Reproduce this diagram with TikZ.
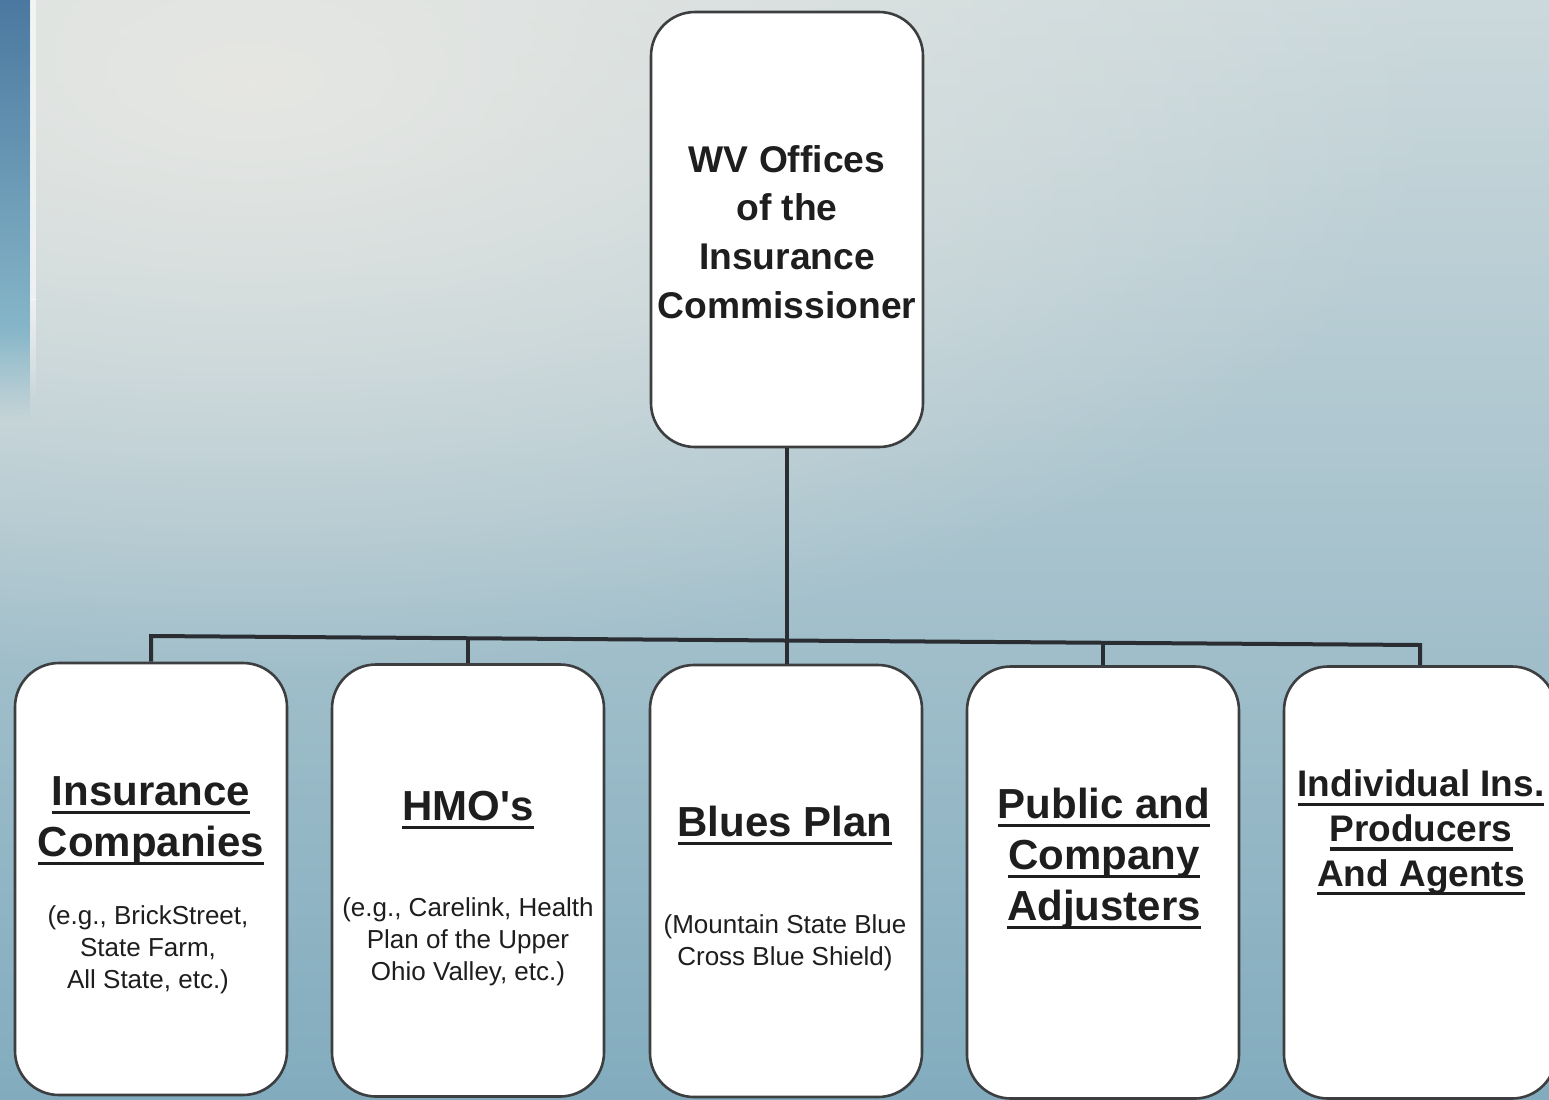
\documentclass[tikz,border=0pt]{standalone}
\usepackage{fontspec}
\setmainfont{Liberation Sans}
\usetikzlibrary{fadings}

\definecolor{bgtop}{HTML}{CCD9DC}
\definecolor{bgmid}{HTML}{BED4D9}
\definecolor{bgbot}{HTML}{82ACBE}
\definecolor{bghi}{HTML}{E6E7E3}
\definecolor{stripA}{HTML}{4A78A0}
\definecolor{stripB}{HTML}{86B6C8}
\definecolor{boxline}{HTML}{3C3E40}
\definecolor{linkc}{HTML}{2A2E33}
\definecolor{txt}{HTML}{1E1E1E}

% thick underline drawn under a word
\newcommand\ulbar[1]{\leavevmode\setbox0\hbox{#1}\rlap{\color{txt}\vrule height -3pt depth 4.7pt width \wd0}\box0}

\tikzfading[name=glowfade, inner color=transparent!0, outer color=transparent!100]
\tikzfading[name=fadedown, top color=transparent!0, bottom color=transparent!100]

\begin{document}
\begin{tikzpicture}[x=0.5pt, y=-0.5pt,
  orgbox/.style={draw=boxline, line width=1.3pt, fill=white, rounded corners=22pt,
    inner sep=0pt, minimum width=136pt, minimum height=216pt},
  link/.style={draw=linkc, line width=2pt},
  % multi-line nodes sit on the baseline of their last line
  head/.style={font=\bfseries\fontsize{21}{25.5}\selectfont, align=center, text=txt,
    anchor=base, inner sep=0pt},
  headsm/.style={font=\bfseries\fontsize{18.5}{22.3}\selectfont, align=center, text=txt,
    anchor=base, inner sep=0pt},
  toptext/.style={font=\bfseries\fontsize{18.6}{24.3}\selectfont, align=center, text=txt,
    anchor=base, inner sep=0pt},
  note/.style={font=\fontsize{13}{16}\selectfont, align=center, text=txt,
    anchor=base, inner sep=0pt}]

\useasboundingbox (0,0) rectangle (1549,1099);
\clip (0,0) rectangle (1549,1099);

% backdrop
\shade[top color=bgtop, middle color=bgmid, bottom color=bgbot] (0,0) rectangle (1549,1099);
\fill[bghi, path fading=glowfade] (-950,-520) rectangle (1450,680);
\shade[top color=stripA, bottom color=stripB] (0,0) rectangle (30,330);
\fill[stripB, path fading=fadedown] (0,329) rectangle (30,420);
\fill[white, opacity=0.6] (30,0) rectangle (36,300);
\fill[white, opacity=0.6, path fading=fadedown] (30,299) rectangle (36,400);

% boxes
\node[orgbox, minimum height=217.5pt] (top) at (787,229.5) {};
\node[orgbox] (b1) at (151,879) {};
\node[orgbox] (b2) at (468,880.5) {};
\node[orgbox] (b3) at (786,881) {};
\node[orgbox] (b4) at (1103,882.5) {};
\node[orgbox] (b5) at (1420,882.5) {};

% connectors
\coordinate (j1) at (151,636);
\coordinate (j2) at (468,638);
\coordinate (j3) at (787,640.5);
\coordinate (j4) at (1103,643);
\coordinate (j5) at (1420,645);
\draw[link] (top.south) -- (j3) -- (j3 |- b3.north);
\draw[link] (j1 |- b1.north) -- (j1) -- (j5) -- (j5 |- b5.north);
\draw[link] (j2) -- (j2 |- b2.north);
\draw[link] (j4) -- (j4 |- b4.north);

% texts
\node[toptext] (ttop) at (787,318) {WV Offices\\of the\\Insurance\\Commissioner};

\node[head] (h1) at (151,856) {\ulbar{Insurance}\\\ulbar{Companies}};
\node[note] (n1) at (148,988) {(e.g., BrickStreet,\\State Farm,\\All State, etc.)};

\node[head] (h2) at (468,820) {\ulbar{HMO\textquotesingle s}};
\node[note] (n2) at (468,980) {(e.g., Carelink, Health\\Plan of the Upper\\Ohio Valley, etc.)};

\node[head] (h3) at (785,836) {\ulbar{Blues Plan}};
\node[note] (n3) at (785,965) {(Mountain State Blue\\Cross Blue Shield)};

\node[head] (h4) at (1104,920) {\ulbar{Public and}\\\ulbar{Company}\\\ulbar{Adjusters}};

\node[headsm] (h5) at (1421,886) {\ulbar{Individual Ins.}\\\ulbar{Producers}\\\ulbar{And Agents}};
\end{tikzpicture}
\end{document}
